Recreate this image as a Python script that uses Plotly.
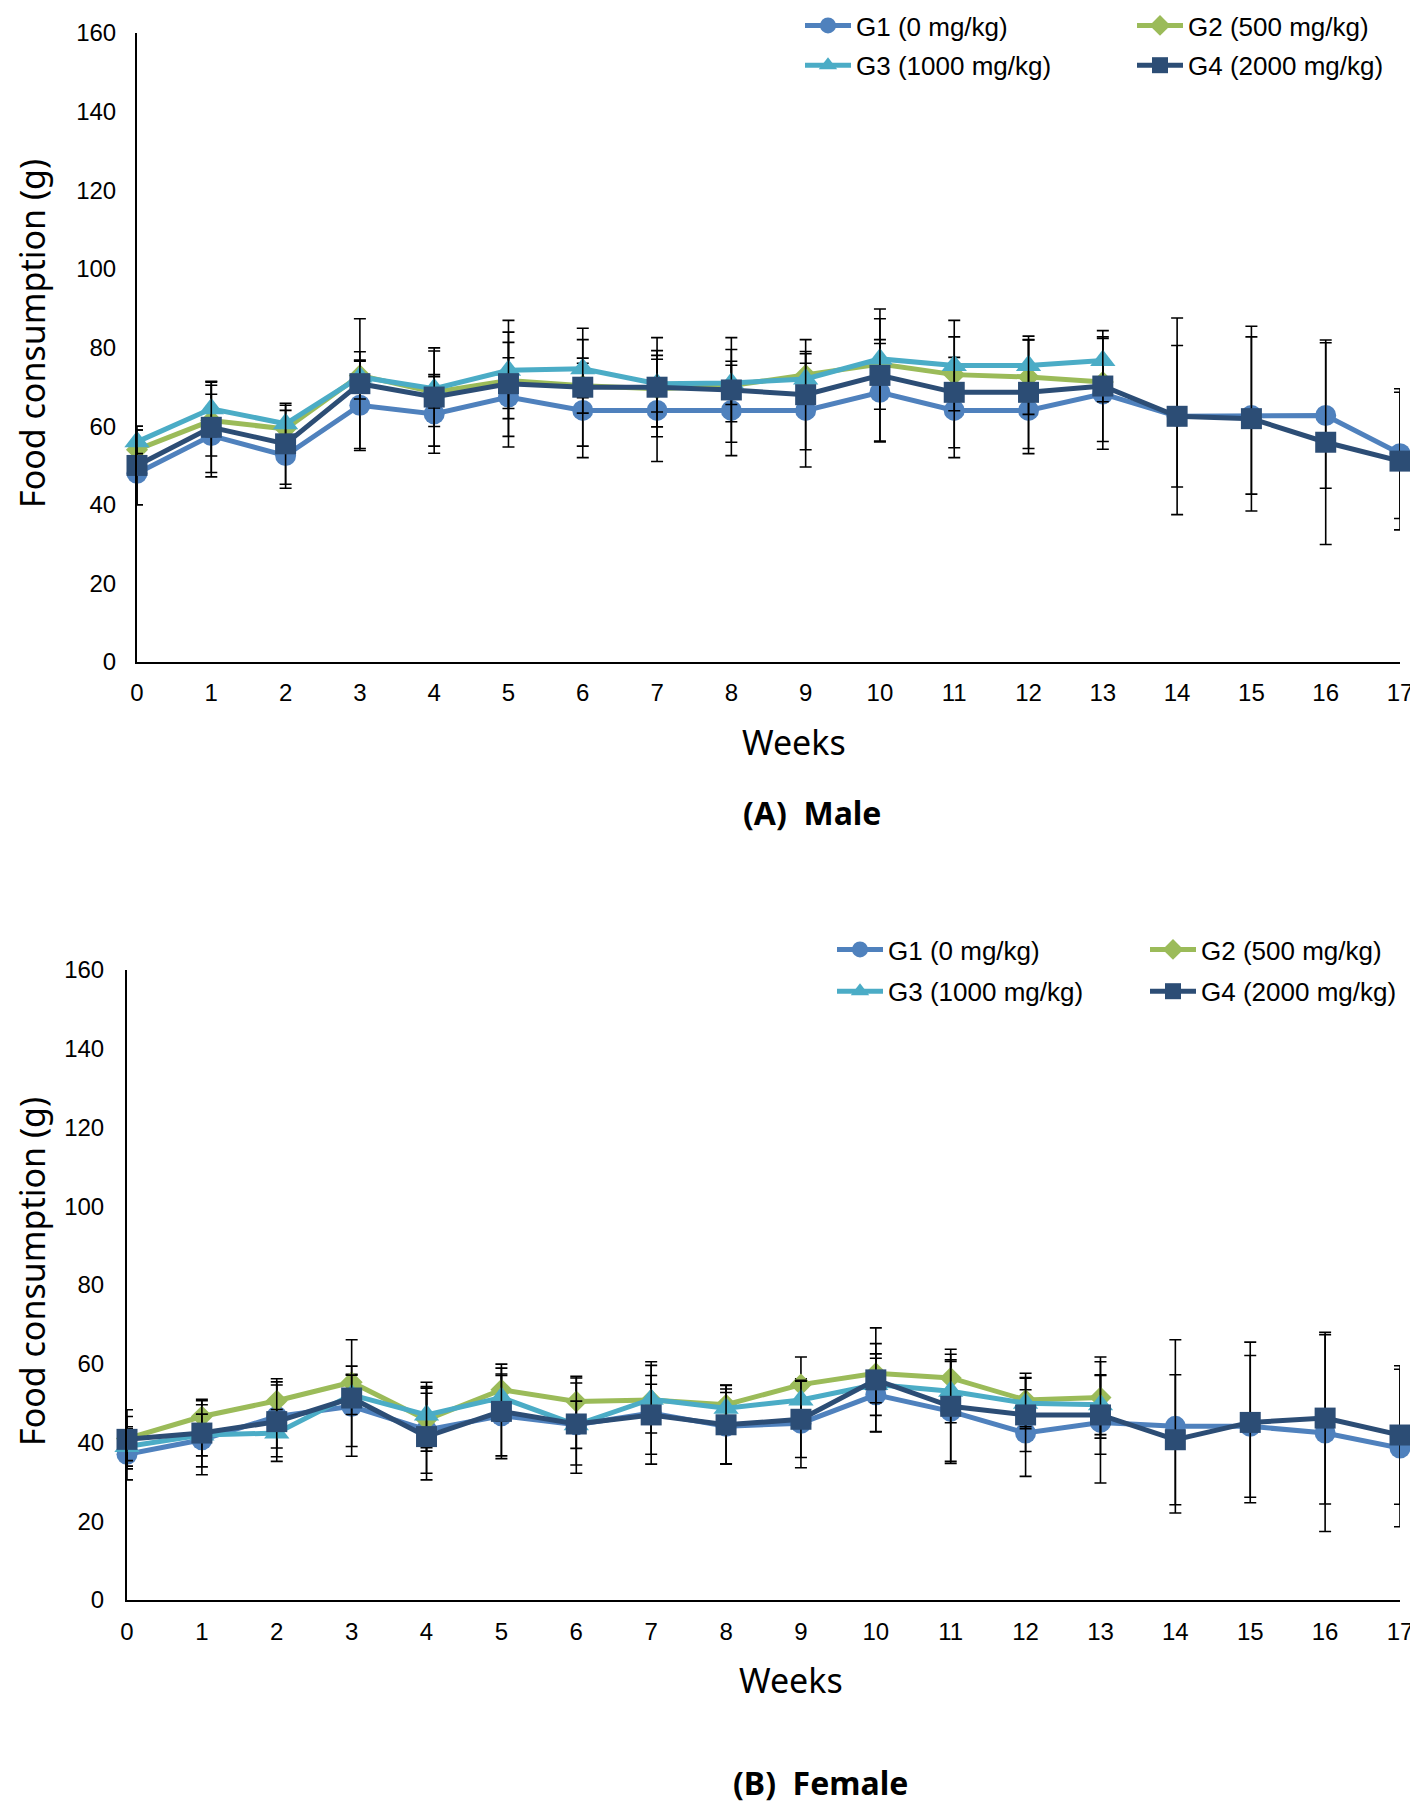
import plotly.graph_objects as go

weeks = list(range(18))
series_names = ["G1 (0 mg/kg)", "G2 (500 mg/kg)", "G3 (1000 mg/kg)", "G4 (2000 mg/kg)"]

# Male
m_g1 = [48, 57.6, 52.5, 65.3, 63.1, 67.4, 64, 64, 64, 64, 68.6, 64, 64, 68.2, 62.5, 62.7, 62.7, 53]
m_g1_sd = [8, 10.5, 8.3, 11.5, 10, 10, 12, 13, 11.5, 14.4, 12.4, 12, 11, 14.1, 18, 20, 18.5, 16.5]
m_g2 = [54, 61.4, 59.3, 72.9, 68.6, 71.6, 70.3, 69.5, 70.3, 73, 75.8, 73.1, 72.5, 71.2, None, None, None, None]
m_g2_sd = [5, 9, 6, 6, 4, 9.7, 7, 9.7, 9.2, 6, 11.5, 4.4, 9.5, 5, None, None, None, None]
m_g3 = [56, 64.4, 60.6, 72.5, 69.5, 74.2, 74.6, 70.8, 71, 72, 77.1, 75.4, 75.4, 76.7, None, None, None, None]
m_g3_sd = [3, 7, 3.4, 4, 9.6, 9.7, 7.4, 7.2, 5.5, 4, 4.9, 11.5, 6.5, 6, None, None, None, None]
m_g4 = [50, 59.7, 55.5, 70.8, 67.4, 70.8, 69.9, 69.9, 69.2, 68, 72.9, 68.6, 68.6, 70.2, 62.5, 61.9, 55.9, 51.1]
m_g4_sd = [10, 11.5, 10.3, 16.5, 12.5, 16.1, 15, 12.6, 13.3, 14, 16.9, 14.1, 14.3, 14.1, 25, 23.5, 26, 17.5]

# Female
f_g1 = [37, 40.7, 46.6, 49.2, 43.2, 46.8, 44.5, 47.5, 44.1, 44.9, 52.1, 47.9, 42.4, 45.1, 44.1, 44.1, 42.4, 38.6]
f_g1_sd = [6.5, 8.9, 8, 10.2, 11, 10.2, 12.3, 13, 9.5, 11.3, 9.3, 12.7, 11, 15.4, 22, 18, 25, 20]
f_g2 = [41, 46.6, 50.6, 55.3, 45.8, 53.4, 50.4, 50.8, 49.6, 54.7, 57.6, 56.4, 50.8, 51.4, None, None, None, None]
f_g2_sd = [5.6, 4, 5.6, 2, 8, 5.5, 6, 4, 5, 7, 7.5, 6, 6.8, 10.3, None, None, None, None]
f_g3 = [39, 41.9, 42.4, 52.1, 47, 51.4, 44.5, 51, 48.7, 50.8, 54.7, 53, 50, 49.6, None, None, None, None]
f_g3_sd = [5, 5.3, 6, 5, 8.3, 6, 6, 8.6, 4, 5, 7.8, 8, 6.5, 7.6, None, None, None, None]
f_g4 = [40.8, 42.4, 45.3, 51.3, 41.5, 47.9, 44.7, 47, 44.5, 45.9, 55.9, 49.2, 47, 47, 40.7, 45.1, 46.2, 41.9]
f_g4_sd = [7.5, 8.6, 10.1, 14.8, 11, 12, 10.4, 10, 10, 9.7, 13.2, 14.5, 9.3, 10, 16.5, 20.4, 21.8, 17.6]

y_ticks = [0, 20, 40, 60, 80, 100, 120, 140, 160]

colors = ["#4F81BD", "#9BBB59", "#4BACC6", "#2C4D75"]
symbols = ["circle", "diamond", "triangle-up", "square"]
msizes = [21, 17, 22, 21]

# page body has an 8px margin: figure is drawn offset by 8px
OFF = 8
FW, FH = 1418 - OFF, 1804 - OFF

TICK_FONT = dict(family="Liberation Sans Narrow, Arial Narrow, Liberation Sans, Arial, sans-serif", size=24, color="black")
LEG_FONT = dict(family="Liberation Sans, Arial, sans-serif", size=26, color="black")
TITLE_FONT = dict(family="Noto Sans, Open Sans, sans-serif", size=34, color="black")
WEEK_FONT = dict(family="Noto Sans, Open Sans, sans-serif", size=34, color="black")
PANEL_FONT = dict(family="Noto Sans, Open Sans, sans-serif", size=32, color="black")

fig = go.Figure()

panels = [
    dict(xa="x", ya="y", data=[(m_g1, m_g1_sd), (m_g2, m_g2_sd), (m_g3, m_g3_sd), (m_g4, m_g4_sd)],
         legs=["legend", "legend2", "legend", "legend2"]),
    dict(xa="x2", ya="y2", data=[(f_g1, f_g1_sd), (f_g2, f_g2_sd), (f_g3, f_g3_sd), (f_g4, f_g4_sd)],
         legs=["legend3", "legend4", "legend3", "legend4"]),
]

for p in panels:
    for i, (vals, sds) in enumerate(p["data"]):
        fig.add_trace(go.Scatter(
            x=weeks, y=vals, name=series_names[i], mode="lines+markers",
            xaxis=p["xa"], yaxis=p["ya"], legend=p["legs"][i], legendgroup=p["legs"][i] + str(i),
            line=dict(color=colors[i], width=5),
            marker=dict(symbol=symbols[i], size=msizes[i], color=colors[i]),
            error_y=dict(type="data", array=sds, visible=True, color="black", thickness=1.6, width=6),
            cliponaxis=False, connectgaps=False,
        ))

def px_x(v):
    return (v - OFF) / FW

def px_y(v):
    return (FH - (v - OFF)) / FH

axis_common = dict(showgrid=False, zeroline=False, showline=True, linecolor="black", linewidth=2,
                   ticks="", tickfont=TICK_FONT)

fig.update_layout(
    width=FW, height=FH, plot_bgcolor="white", paper_bgcolor="white",
    margin=dict(l=0, r=0, t=0, b=0, pad=0, autoexpand=False), showlegend=True,
    xaxis=dict(domain=[px_x(137), px_x(1400)], range=[0, 17], anchor="y", tickvals=weeks,
               ticklabelstandoff=8, **axis_common),
    yaxis=dict(domain=[px_y(662), px_y(33)], range=[0, 160], anchor="x", tickvals=y_ticks,
               ticklabelstandoff=14, **axis_common),
    xaxis2=dict(domain=[px_x(127), px_x(1400)], range=[0, 17], anchor="y2", tickvals=weeks,
                ticklabelstandoff=9, **axis_common),
    yaxis2=dict(domain=[px_y(1600), px_y(970)], range=[0, 160], anchor="x2", tickvals=y_ticks,
                ticklabelstandoff=16, **axis_common),
)

leg_common = dict(orientation="v", font=LEG_FONT, itemwidth=46, bgcolor="rgba(0,0,0,0)",
                  xanchor="left", yanchor="top", traceorder="grouped")
fig.update_layout(
    legend=dict(x=px_x(800), y=px_y(2), tracegroupgap=3, **leg_common),
    legend2=dict(x=px_x(1132), y=px_y(2), tracegroupgap=3, **leg_common),
    legend3=dict(x=px_x(832), y=px_y(926), tracegroupgap=5, **leg_common),
    legend4=dict(x=px_x(1145), y=px_y(926), tracegroupgap=5, **leg_common),
)

annots = [
    dict(text="Food consumption (g)", x=px_x(32), y=px_y(334), textangle=-90, font=TITLE_FONT),
    dict(text="Weeks", x=px_x(794), y=px_y(742), font=WEEK_FONT),
    dict(text="<b>(A)  Male</b>", x=px_x(812), y=px_y(812), font=PANEL_FONT),
    dict(text="Food consumption (g)", x=px_x(32), y=px_y(1272), textangle=-90, font=TITLE_FONT),
    dict(text="Weeks", x=px_x(791), y=px_y(1680), font=WEEK_FONT),
    dict(text="<b>(B)  Female</b>", x=px_x(820), y=px_y(1782), font=PANEL_FONT),
]
for a in annots:
    fig.add_annotation(xref="paper", yref="paper", showarrow=False, xanchor="center", yanchor="middle", **a)

fig.write_html("out.html")
